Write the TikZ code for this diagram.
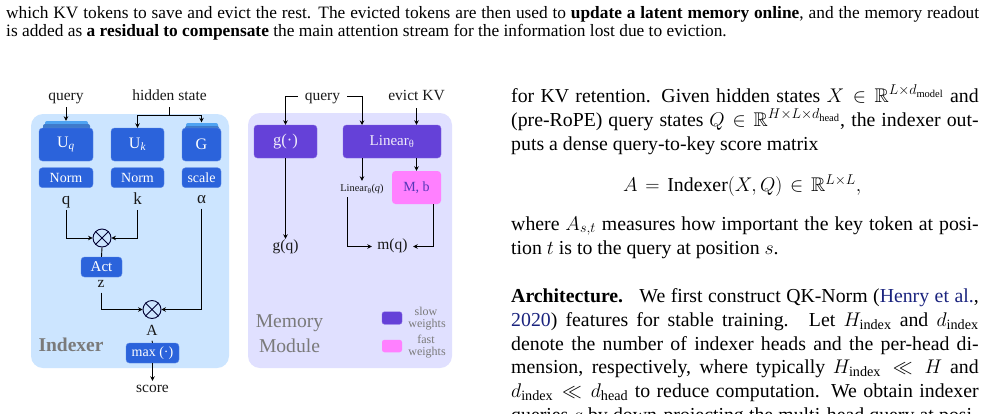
\documentclass[tikz,border=0pt]{standalone}
\usepackage{fix-cm}
\usepackage{amsmath,amssymb}
\usepackage{fontspec}
\setmainfont{Liberation Serif}
\usetikzlibrary{arrows.meta,shapes.misc}
\DeclareMathSizes{19.8}{19.8}{14.2}{10.5}
\definecolor{panelblue}{HTML}{CCE5FF}
\definecolor{panelviolet}{HTML}{E0E0FF}
\definecolor{boxblue}{HTML}{2B63DB}
\definecolor{edgeblue}{HTML}{5A88E6}
\definecolor{topmid}{HTML}{3F7ACB}
\definecolor{toplight}{HTML}{4FA3F2}
\definecolor{boxviolet}{HTML}{6541D8}
\definecolor{boxpink}{HTML}{FF80FF}
\definecolor{wordgray}{HTML}{7A7A7A}
\definecolor{citeblue}{HTML}{1A237E}
\newcommand{\fs}[1]{\fontsize{#1}{#1}\selectfont}
\newcommand{\jl}[1]{\makebox[467.5pt][s]{#1}}
\tikzset{
 x=1pt,y=-1pt,
 panel/.style={fill=#1,draw=none,rounded corners=12pt},
 blockb/.style={fill=boxblue,draw=edgeblue,line width=.4pt,rounded corners=3.5pt,text=white,inner sep=0pt,font=\fs{14}},
 blockv/.style={fill=boxviolet,draw=boxviolet!80!white,line width=.4pt,rounded corners=3.5pt,text=white!90!boxviolet,inner sep=0pt,font=\fs{15}},
 blockp/.style={fill=boxpink,draw=none,rounded corners=3.5pt,text=boxviolet!85!black,inner sep=0pt,font=\fs{14}},
 lab/.style={inner sep=0pt,minimum height=16pt,text height=10pt,text depth=3.5pt,text=black!90,font=\fs{15.5}},
 toplab/.style={lab,text height=8pt,text depth=0pt},
 wire/.style={line width=.9pt,black},
 arr/.style={wire,-{Stealth[length=4.5pt,width=4.5pt]}},
 body/.style={inner sep=0pt,anchor=base west,text=black},
 legend/.style={inner sep=0pt,text=wordgray,font=\fs{12}},
 big/.style={inner sep=0pt,text=wordgray,font=\fs{19.6}},
}
\begin{document}
\begin{tikzpicture}
\clip (0,0) rectangle (988,413);
\fill[white] (0,0) rectangle (988,413);
% panels
\fill[panel=panelblue] (31,114) rectangle (229,368);
\fill[panel=panelviolet] (248,113) rectangle (452,368);
% top text
\node[body,font=\fs{17.35}] (t1) at (6,18) {\makebox[973pt][s]{which KV tokens to save and evict the rest. The evicted tokens are then used to \textbf{update a latent memory online}, and the memory readout}};
\node[body,font=\fs{17.35}] (t2) at (6,36) {is added as \textbf{a residual to compensate} the main attention stream for the information lost due to eviction.};
% Indexer stacked weights
\fill[toplight,rounded corners=2pt] (45,121) rectangle (88,132);
\fill[topmid,rounded corners=2pt] (43,124) rectangle (90,134);
\fill[toplight,rounded corners=2pt] (186,123) rectangle (218,134);
\fill[topmid,rounded corners=2pt] (185,126) rectangle (219,134);
\node[inner sep=0pt,minimum width=43pt,minimum height=1pt] (uqtop) at (66,121.5) {};
\node[inner sep=0pt,minimum width=32pt,minimum height=1pt] (gtop) at (201.5,123) {};
\node[blockb,minimum width=54pt,minimum height=33pt,font=\fs{16}] (uq) at (66,144.5) {U\textsubscript{\itshape q}};
\node[blockb,minimum width=53pt,minimum height=33pt,font=\fs{16}] (uk) at (137.5,144.5) {U\textsubscript{\itshape k}};
\node[blockb,minimum width=39pt,minimum height=33pt,font=\fs{16}] (g) at (201.5,144.5) {G};
\node[blockb,minimum width=54pt,minimum height=20pt] (n1) at (66,177.7) {Norm};
\node[blockb,minimum width=53pt,minimum height=20pt] (n2) at (137.5,177.7) {Norm};
\node[blockb,minimum width=39pt,minimum height=20pt] (sc) at (201.5,177.7) {scale};
\node[lab,minimum height=21pt] (query1) at (66,96.75) {query};
\node[lab,minimum height=21pt] (hidden) at (169.5,96.75) {hidden state};
\coordinate (hj) at (169.5,115);
\node[lab,font=\fs{17}] (q) at (66,201.7) {q};
\node[lab,font=\fs{17}] (k) at (137.5,201.7) {k};
\node[lab,font=\fs{17}] (alpha) at (201.5,200.3) {α};
\node[circle,draw=black!80!blue,line width=.9pt,minimum size=18pt,inner sep=0pt] (m1) at (102,238) {};
\draw[black!80!blue,line width=.9pt] (m1.45) -- (m1.225) (m1.135) -- (m1.315);
\node[blockb,minimum width=41pt,minimum height=20pt,font=\fs{15}] (act) at (101.5,267) {Act};
\node[lab] (z) at (101,284.5) {z};
\node[circle,draw=black!80!blue,line width=.9pt,minimum size=18pt,inner sep=0pt] (m2) at (152,309.5) {};
\draw[black!80!blue,line width=.9pt] (m2.45) -- (m2.225) (m2.135) -- (m2.315);
\node[lab,minimum height=17pt] (A) at (152,332) {A};
\node[blockb,minimum width=53pt,minimum height=20pt] (mx) at (152.5,353) {max (·)};
\node[lab,minimum height=16pt] (score) at (152.5,389) {score};
\node[inner sep=0pt,text=wordgray,font=\bfseries\fs{19.5}] (indexer) at (71,345) {Indexer};
% Indexer wires
\draw[arr] (query1.south) -- (uqtop.north);
\draw[wire] (hidden.south) -- (hj);
\draw[arr] (hj) -| (uk.north);
\draw[arr] (hj) -| (gtop.north);
\draw[arr] (q.south) |- (m1.west);
\draw[arr] (k.south) |- (m1.east);
\draw[wire] (m1.south) -- (act.north);
\draw[arr] (z.south) |- (m2.west);
\draw[arr] (alpha.south) |- (m2.east);
\draw[wire] (A.south) -- (mx.north);
\draw[arr] (mx.south) -- (score.north);
% Memory module
\node[blockv,minimum width=63pt,minimum height=33pt,font=\fs{16.5}] (gb) at (285.5,141.5) {g(·)};
\node[blockv,minimum width=98pt,minimum height=33pt] (lin) at (392,141.5) {Linear\textsubscript{θ}};
\node[blockp,minimum width=49pt,minimum height=33pt] (mb) at (416.5,187.5) {M, b};
\node[toplab,minimum width=49pt] (query2) at (322.5,96) {query};
\node[toplab,minimum height=24pt] (evict) at (416.5,96) {evict KV};
\coordinate (lt) at (362,125);
\node[lab] (gq) at (285.5,247) {g(q)};
\node[lab,minimum width=41pt] (mq) at (392.5,246.5) {m(q)};
\node[inner sep=0pt,minimum height=16pt,text=black!90,font=\fs{10.4}] (lq) at (362,189) {Linear\textsubscript{θ}(\textit{q})};
\coordinate (lqs) at (347,197);
\coordinate (mbs) at (433.7,204);
\draw[arr] (query2.west) -| (gb.north);
\draw[arr] (query2.east) -| (lt);
\draw[arr] (evict.south) -- (evict.south |- lin.north);
\draw[arr] (gb.south) -- (gq.north);
\draw[arr] (lq.north |- lin.south) -- (lq.north);
\draw[arr] (mb.north |- lin.south) -- (mb.north);
\draw[arr] (lqs) |- (mq.west);
\draw[arr] (mbs) |- (mq.east);
\node[big] (mem1) at (289.5,323.5) {Memory};
\node[big] (mem2) at (289.5,345.5) {Module};
\node[fill=boxviolet,draw=boxviolet!80!white,line width=.4pt,rounded corners=2.5pt,minimum width=20pt,minimum height=12.5pt,inner sep=0pt] (ls) at (392,318) {};
\node[fill=boxpink,rounded corners=2.5pt,minimum width=20pt,minimum height=12.5pt,inner sep=0pt] (lf) at (392,346) {};
\node[legend] (s1) at (426,311.5) {slow};
\node[legend] (s2) at (427,325) {weights};
\node[legend] (f1) at (426,339.5) {fast};
\node[legend] (f2) at (427,353) {weights};
% right column
\begin{scope}[font=\fs{19.8}]
\node[body] (r1) at (511,102) {\jl{for KV retention. Given hidden states $X\in\mathbb{R}^{L\times d_{\mathrm{model}}}$ and}};
\node[body] (r2) at (511,126) {\jl{(pre-RoPE) query states $Q\in\mathbb{R}^{H\times L\times d_{\mathrm{head}}}$, the indexer out-}};
\node[body] (r3) at (511,150) {puts a dense query-to-key score matrix};
\node[body] (r4) at (623,191.5) {$A\mskip2mu=\mskip2mu\mathrm{Indexer}(X,Q)\mskip2mu\in\mskip2mu\mathbb{R}^{L\times L},$};
\node[body] (r5) at (511,230) {\jl{where $A_{s,t}$ measures how important the key token at posi-}};
\node[body] (r6) at (511,254) {tion $t$ is to the query at position $s$.};
\node[body] (r7) at (511,302) {\jl{\textbf{Architecture.}\hspace{8pt} We first construct QK-Norm (\textcolor{citeblue}{Henry et al.},}};
\node[body] (r8) at (511,326) {\jl{\textcolor{citeblue}{2020}) features for stable training.\hspace{4pt} Let $H_{\mathrm{index}}$ and $d_{\mathrm{index}}$}};
\node[body] (r9) at (511,350) {\jl{denote the number of indexer heads and the per-head di-}};
\node[body] (r10) at (511,373) {\jl{mension, respectively, where typically $H_{\mathrm{index}}\ll H$ and}};
\node[body] (r11) at (511,397) {\jl{$d_{\mathrm{index}}\ll d_{\mathrm{head}}$ to reduce computation. We obtain indexer}};
\node[body] (r12) at (511,421) {\jl{queries $q$ by down-projecting the multi-head query at posi-}};
\end{scope}
\end{tikzpicture}
\end{document}
